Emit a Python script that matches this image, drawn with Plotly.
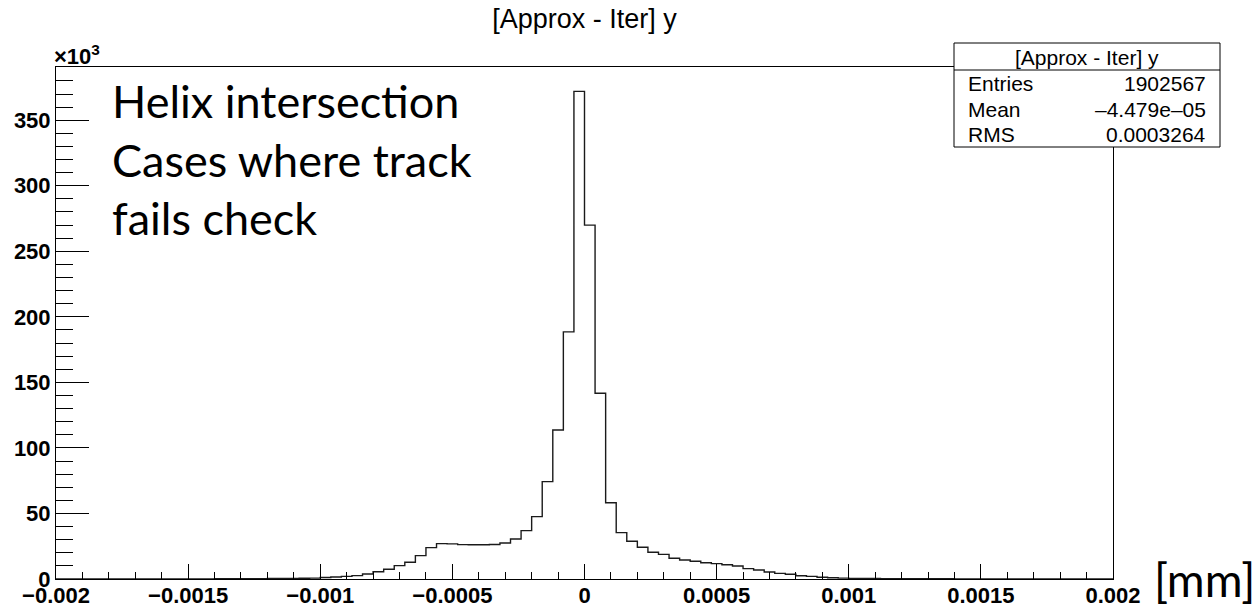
import plotly.graph_objects as go

# ---- data (counts in units of 10^3), 100 bins from -0.002 to 0.002 ----
x_min = -0.002
x_max = 0.002
bin_width = 0.00004
counts_k = [
    0, 0, 0, 0, 0, 0, 0, 0, 0, 0,
    0, 0, 0, 0, 0, 0.2, 0.2, 0.3, 0.3, 0.3,
    0.4, 0.4, 0.5, 0.6, 0.7, 1.2, 1.5, 2.0, 2.6, 3.8,
    5.5, 7.4, 10.2, 12.8, 17.8, 23.9, 27.0, 26.8, 26.2, 26.1,
    26.1, 26.3, 27.5, 30.5, 36.9, 47.6, 74.3, 113.7, 188.5, 372.0,
    270.0, 141.7, 58.2, 35.4, 28.8, 24.2, 20.4, 18.8, 15.8, 14.5,
    13.5, 12.4, 11.7, 10.9, 9.9, 7.9, 6.9, 5.3, 4.3, 3.6,
    2.5, 2.0, 1.3, 1.0, 0.7, 0.5, 0.4, 0.4, 0.3, 0.3,
    0.3, 0.2, 0.2, 0.2, 0.2, 0.1, 0.1, 0.1, 0.1, 0,
    0, 0, 0, 0, 0, 0, 0, 0, 0, 0,
]
edges = [x_min + i * bin_width for i in range(len(counts_k) + 1)]

x_tick_vals = [-0.002, -0.0015, -0.001, -0.0005, 0, 0.0005, 0.001, 0.0015, 0.002]
x_tick_text = ["\u22120.002", "\u22120.0015", "\u22120.001", "\u22120.0005", "0",
               "0.0005", "0.001", "0.0015", "0.002"]
y_tick_vals = [0, 50, 100, 150, 200, 250, 300, 350]

title_text = "[Approx - Iter] y"
stat_labels = ["Entries", "Mean", "RMS"]
stat_values = ["1902567", "\u20134.479e\u201305", "0.0003264"]
note_lines = ["Helix intersection", "Cases where track", "fails check"]
unit_text = "[mm]"

y_top = 1.05 * max(counts_k)

# ---- layout geometry (pixels) ----
W, H = 1259, 607
L, R, T, B = 56, 1113, 67, 579


def px(x):
    return (x - L) / (R - L)


def py(y):
    return (B - y) / (B - T)


fig = go.Figure()
fig.add_trace(go.Scatter(
    x=edges,
    y=counts_k + [counts_k[-1]],
    mode="lines",
    line=dict(shape="hv", color="#1a1a1a", width=1.4),
    hoverinfo="skip",
    showlegend=False,
    cliponaxis=False,
))

tick_font = dict(family="Liberation Sans, Arial, sans-serif", size=22, color="black", weight="bold")

fig.update_layout(
    width=W, height=H,
    autosize=False,
    margin=dict(l=L, r=W - R, t=T, b=H - B, pad=0, autoexpand=False),
    plot_bgcolor="white",
    paper_bgcolor="white",
    showlegend=False,
    title=dict(
        text=title_text,
        x=0.5, xref="paper", xanchor="center",
        y=1 - 19 / H, yref="container", yanchor="middle",
        font=dict(family="Liberation Sans, Arial, sans-serif", size=27, color="black"),
        automargin=False,
    ),
    xaxis=dict(
        range=[x_min, x_max],
        automargin=False,
        showgrid=False, zeroline=False,
        showline=True, linecolor="black", linewidth=1, mirror=True,
        ticks="inside", ticklen=15, tickcolor="black", tickwidth=1,
        tickvals=x_tick_vals, ticktext=x_tick_text,
        tickfont=tick_font,
        ticklabelstandoff=-3,
        minor=dict(dtick=0.0001, tick0=0, ticks="inside", ticklen=7,
                   tickcolor="black", tickwidth=1, showgrid=False),
    ),
    yaxis=dict(
        range=[0, y_top],
        automargin=False,
        showgrid=False, zeroline=False,
        showline=True, linecolor="black", linewidth=1, mirror=True,
        ticks="inside", ticklen=33, tickcolor="black", tickwidth=1,
        tickvals=y_tick_vals,
        tickfont=tick_font,
        minor=dict(dtick=10, tick0=0, ticks="inside", ticklen=17,
                   tickcolor="black", tickwidth=1, showgrid=False),
    ),
)

# ---- x10^3 multiplier ----
fig.add_annotation(
    text="\u00d710<sup>3</sup>", xref="paper", yref="paper",
    x=px(52), y=py(71), xanchor="left", yanchor="bottom", showarrow=False,
    font=dict(family="Liberation Sans, Arial, sans-serif", size=22, color="black", weight="bold"),
)

# ---- stats box ----
box_l, box_r, box_t, box_sep, box_b = 954, 1220, 43, 70, 147
fig.add_shape(type="rect", xref="paper", yref="paper",
              x0=px(box_l), x1=px(box_r), y0=py(box_b), y1=py(box_t),
              line=dict(color="black", width=1), fillcolor="white", layer="above")
fig.add_shape(type="line", xref="paper", yref="paper",
              x0=px(box_l), x1=px(box_r), y0=py(box_sep), y1=py(box_sep),
              line=dict(color="black", width=1), layer="above")
stat_font = dict(family="Liberation Sans, Arial, sans-serif", size=21, color="black")
fig.add_annotation(text=title_text, xref="paper", yref="paper",
                   x=px((box_l + box_r) / 2), y=py(57), xanchor="center", yanchor="middle",
                   showarrow=False, font=stat_font)
row_y = [83, 109, 134]
for lab, val, yy in zip(stat_labels, stat_values, row_y):
    fig.add_annotation(text=lab, xref="paper", yref="paper",
                       x=px(966), y=py(yy), xanchor="left", yanchor="middle",
                       showarrow=False, font=stat_font)
    fig.add_annotation(text=val, xref="paper", yref="paper",
                       x=px(1208), y=py(yy), xanchor="right", yanchor="middle",
                       showarrow=False, font=stat_font)

# ---- slide text ----
fig.add_annotation(
    text="<br>".join(note_lines), xref="paper", yref="paper",
    x=px(110), y=py(72), xanchor="left", yanchor="top", align="left",
    showarrow=False,
    font=dict(family="Lato, Noto Sans, sans-serif", size=45, color="black"),
)
fig.add_annotation(
    text=unit_text, xref="paper", yref="paper",
    x=px(1152), y=py(609), xanchor="left", yanchor="bottom",
    showarrow=False,
    font=dict(family="Lato, Noto Sans, sans-serif", size=46, color="black"),
)

fig.write_html(
    "out.html",
    config={"displayModeBar": False},
    post_script="document.body.style.margin='0px';document.body.style.overflow='hidden';",
)
